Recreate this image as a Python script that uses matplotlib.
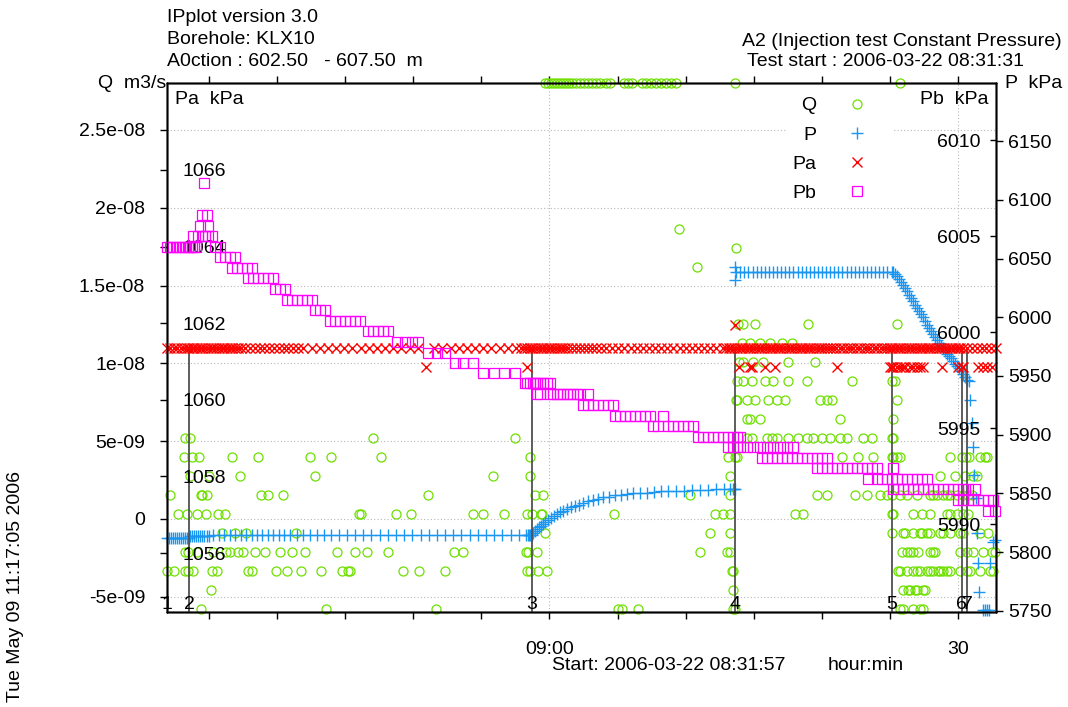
# plot.py
# IPplot-style injection test chart (KLX10, A2 constant pressure)
# ----------------------------------------

import matplotlib
matplotlib.use("Agg")
import matplotlib.pyplot as plt
import matplotlib.transforms as mtransforms
from matplotlib.lines import Line2D

plt.rcParams["font.family"] = ["Liberation Sans", "DejaVu Sans"]
plt.rcParams["font.size"] = 14

# ── Data (time = minutes after 08:31:57) ──────────────────────────────────────

# Q, flow in 1e-9 m3/s, quantised rows; first row sits on the top frame (off scale)
q_levels = [28.02, 18.62, 17.40, 16.18, 12.52, 11.30, 10.08, 8.86, 7.64, 6.42,
            5.20, 3.98, 2.76, 1.54, 0.32, -0.90, -2.12, -3.34, -4.56, -5.78]
q_times = [
    [27.73, 27.95, 28.17, 28.39, 28.61, 28.83, 29.05, 29.27, 29.49, 29.71, 30.0, 30.29,
     30.59, 30.88, 31.17, 31.47, 31.76, 32.2, 32.49, 33.52, 33.81, 34.1, 34.84, 35.13,
     35.5, 35.87, 36.23, 36.6, 36.97, 37.34, 41.66, 53.77],
    [37.56],
    [41.74],
    [38.88],
    [41.88, 42.25, 43.13, 47.02, 53.55],
    [42.18, 42.76, 43.50, 44.23, 45.11, 45.85],
    [41.96, 42.25, 42.98, 43.72, 45.55, 47.53],
    [41.81, 42.25, 42.91, 43.87, 44.45, 45.55, 46.94, 50.24, 53.18, 53.40],
    [41.74, 41.81, 42.54, 43.13, 44.08, 44.74, 45.33, 47.90, 48.41, 48.78, 53.55],
    [42.54, 42.76, 43.50, 49.36, 53.25],
    [1.32, 1.69, 15.11, 25.53, 42.54, 42.91, 44.01, 44.38, 44.74, 45.55, 46.28, 46.94,
     47.38, 48.04, 48.63, 49.36, 49.88, 51.05, 51.71, 53.18, 53.25],
    [1.25, 1.83, 2.35, 4.77, 6.67, 10.49, 12.03, 15.70, 26.63, 41.15, 41.66, 41.81,
     49.51, 50.68, 51.79, 53.18, 53.25, 53.55, 53.77, 57.43, 58.31, 58.61, 58.83, 59.64,
     60.00, 60.15],
    [1.69, 3.08, 5.35, 10.86, 23.91, 26.63, 41.30, 56.70, 57.80, 58.53, 59.12, 59.41],
    [0.22, 2.49, 2.57, 2.93, 6.89, 7.41, 8.51, 19.14, 26.99, 27.58, 38.36, 41.30, 47.68,
     48.41, 50.46, 51.35, 52.30, 52.81, 53.18, 53.77, 54.28, 55.01, 55.97, 56.18, 56.48,
     56.92, 57.21, 57.43, 57.95, 58.39, 58.75, 59.05],
    [0.81, 1.47, 2.20, 2.86, 3.74, 4.25, 14.08, 14.23, 16.80, 17.90, 22.45, 23.18, 24.72,
     26.41, 26.77, 27.43, 27.51, 32.79, 40.20, 40.78, 41.30, 46.06, 46.65, 53.18, 53.25,
     54.72, 55.38, 55.97, 57.21, 57.43, 57.95, 58.39, 58.75],
    [4.03, 4.99, 5.79, 9.46, 27.73, 39.83, 41.30, 53.18, 53.99, 54.13, 54.72, 55.23,
     55.38, 55.75, 55.97, 56.70, 56.92, 57.43, 58.17, 58.39, 59.64, 60.22],
    [1.32, 1.54, 2.20, 3.37, 4.33, 4.62, 5.21, 5.57, 6.45, 7.19, 8.29, 9.17, 10.12, 12.47,
     13.79, 14.67, 16.21, 21.05, 21.71, 26.33, 26.48, 27.14, 39.10, 41.08, 41.30, 53.91,
     54.28, 54.50, 54.72, 55.09, 55.97, 56.18, 56.33, 58.17, 58.68, 59.12, 59.86, 60.52,
     60.73],
    [0.0, 0.51, 1.32, 1.54, 1.91, 3.30, 3.67, 5.94, 6.23, 8.00, 8.80, 9.83, 11.30, 12.84,
     13.28, 13.42, 17.31, 18.48, 20.39, 26.41, 26.63, 27.21, 27.87, 41.44, 41.52, 53.62,
     53.77, 54.28, 54.72, 55.01, 55.23, 55.75, 55.97, 56.18, 56.55, 56.70, 56.92, 57.21,
     57.43, 58.17, 58.68, 58.90, 59.64, 60.37, 60.59],
    [3.23, 41.52, 53.99, 54.35, 54.50, 54.87, 55.01, 55.45, 55.60],
    [2.49, 11.66, 19.73, 33.08, 33.37, 34.55, 41.52, 41.66, 53.77, 53.99, 54.72, 55.23,
     55.45],
]

# P, test section pressure (kPa)
p_t = ([0.0, 0.15, 0.3, 0.45, 0.6, 0.75, 0.9, 1.05, 1.2, 1.35, 1.5, 1.6]
       + [1.7, 1.85, 2.0, 2.15, 2.3, 2.45, 2.6, 2.75, 2.9, 3.05]
       + [3.4, 3.8, 4.2, 4.6, 5.0, 5.4, 5.8, 6.2, 6.6, 7.0, 7.4, 7.8, 8.2, 8.6, 9.0, 9.5,
          10.0, 10.5, 11.0, 11.5, 12.0, 12.6, 13.2, 13.8, 14.4, 15.0, 15.6, 16.2, 16.8,
          17.4, 18.0, 18.6, 19.2, 19.8, 20.4, 21.0, 21.6, 22.2, 22.8, 23.4, 24.0, 24.6,
          25.2, 25.8, 26.3, 26.45, 26.55, 26.65, 26.75]
       + [26.85, 26.99, 27.14, 27.29, 27.43, 27.58, 27.73, 27.95, 28.17, 28.39, 28.61,
          28.83, 29.05, 29.34, 29.63, 29.93, 30.22, 30.51, 30.88, 31.25, 31.61, 31.98,
          32.42, 32.86, 33.30, 33.74, 34.18, 34.70, 35.21, 35.72, 36.23, 36.75, 37.34,
          37.92, 38.51, 39.10, 39.68, 40.27, 40.86, 41.30, 41.52, 41.60, 41.66]
       + [41.66, 41.66, 41.75, 42.05, 42.35, 42.65, 42.95, 43.25, 43.55, 43.85, 44.15,
          44.45, 44.75, 45.05, 45.35, 45.65, 45.95, 46.25, 46.55, 46.85, 47.15, 47.45,
          47.75, 48.05, 48.35, 48.65, 48.95, 49.25, 49.55, 49.85, 50.15, 50.45, 50.75,
          51.05, 51.35, 51.65, 51.95, 52.25, 52.55, 52.85, 53.15]
       + [53.25, 53.40, 53.55, 53.70, 53.84, 53.99, 54.13, 54.28, 54.43, 54.57, 54.72,
          54.87, 55.01, 55.16, 55.31, 55.45, 55.60, 55.75, 55.89, 56.04, 56.18, 56.33,
          56.48, 56.63, 56.77, 56.92, 57.07, 57.21, 57.36, 57.51, 57.65, 57.80, 57.95,
          58.09, 58.24, 58.39, 58.53, 58.68]
       + [58.83, 58.90, 59.05, 59.12, 59.19, 59.34, 59.41, 59.49, 59.56, 59.86, 60.00,
          60.15, 60.30, 60.37, 60.59, 60.73])
p_v = ([5812.1] * 12 + [5813.8] * 10 + [5814.7] * 49
       + [5816.4, 5818.1, 5819.8, 5821.1, 5822.3, 5823.6, 5825.7, 5827.4, 5829.1, 5830.8,
          5832.5, 5833.8, 5835.1, 5836.8, 5838.1, 5839.4, 5840.6, 5841.9, 5843.2, 5844.5,
          5845.7, 5846.6, 5847.4, 5848.3, 5848.7, 5849.6, 5850.0, 5850.4, 5850.8, 5851.3,
          5851.7, 5852.1, 5852.1, 5852.5, 5853.0, 5853.0, 5853.0, 5853.4, 5853.8, 5853.8,
          5853.8, 5853.8, 5853.8]
       + [6042.7, 6031.7] + [6038.5] * 39
       + [6038.1, 6036.8, 6035.1, 6032.6, 6030.0, 6027.4, 6024.9, 6022.3, 6019.3, 6016.4,
          6013.8, 6010.8, 6007.9, 6005.3, 6002.7, 5999.8, 5996.8, 5993.8, 5990.8, 5988.3,
          5985.7, 5983.2, 5980.6, 5978.1, 5975.5, 5973.4, 5971.3, 5969.1, 5967.0, 5964.9,
          5962.8, 5960.6, 5958.5, 5956.4, 5954.2, 5951.7, 5949.1, 5947.0]
       + [5945.7, 5929.6, 5910.0, 5889.6, 5865.7, 5846.2, 5816.4, 5790.8, 5766.2, 5750.9,
          5750.9, 5750.9, 5750.9, 5790.8, 5808.7, 5810.4])

# Pa, pressure above the section (kPa)
pa_level = 1061.36
pa_t = [0.0, 0.25, 0.5, 0.75, 1.0, 1.25, 1.5,
        1.6, 1.8, 2.0, 2.2, 2.4, 2.6, 2.8, 3.0, 3.2, 3.4, 3.6, 3.8, 4.0, 4.2, 4.4, 4.6,
        4.8, 5.0, 5.2, 5.4,
        5.75, 6.1, 6.45, 6.8, 7.15, 7.5, 7.85, 8.2, 8.55, 8.9, 9.25, 9.6,
        10.0, 10.6, 11.2, 11.8, 12.4, 13.0, 13.6, 14.2, 14.8, 15.4, 16.0, 16.6, 17.2,
        17.8, 18.4, 19.6, 20.2, 20.8, 21.4, 22.0, 22.6, 23.2, 23.8, 24.4, 25.0, 25.6,
        26.0, 26.2, 26.4, 26.6, 26.8, 27.0, 27.2, 27.4, 27.6, 27.8, 28.0, 28.2, 28.4,
        28.6, 28.8, 29.0, 29.2, 29.4,
        29.7, 30.0, 30.3, 30.6, 30.9, 31.2, 31.5, 31.8,
        32.2, 32.65, 33.1, 33.55, 34.0, 34.45, 34.9, 35.35, 35.8, 36.25, 36.7, 37.15,
        37.6, 38.05, 38.5, 38.95, 39.4, 39.85, 40.3, 40.75,
        41.0, 41.2, 41.4, 41.6, 41.8, 42.0, 42.2, 42.4, 42.6, 42.8, 43.0, 43.2, 43.4,
        43.6, 43.8, 44.0, 44.2, 44.4, 44.6, 44.8, 45.0, 45.2, 45.4, 45.6, 45.8, 46.0,
        46.2, 46.4, 46.6, 46.8, 47.0, 47.2, 47.4, 47.6, 47.8, 48.0, 48.2, 48.4, 48.6,
        48.85, 49.1, 49.35, 49.6, 49.85, 50.1, 50.35, 50.6, 50.85, 51.1, 51.35, 51.6,
        51.85, 52.1, 52.35, 52.6, 52.85,
        53.0, 53.2, 53.4, 53.6, 53.8, 54.0, 54.2, 54.4, 54.6, 54.8, 55.0, 55.2, 55.4,
        55.6, 55.8, 56.0, 56.2, 56.4, 56.6, 56.8, 57.0, 57.2, 57.4, 57.6, 57.8, 58.0,
        58.2, 58.4,
        58.7, 59.05, 59.4, 59.75, 60.1, 60.45, 60.8]
pa_low = 1060.85
pa_low_t = [18.99, 26.41, 41.96, 42.76, 42.91, 43.87, 44.60, 49.14, 53.03, 53.18, 53.25,
            53.55, 53.77, 53.99, 54.13, 54.50, 54.72, 55.01, 55.23, 55.45, 56.85, 58.02,
            58.31, 58.39, 59.49, 59.86, 60.15, 60.52]
pa_high = 1061.96
pa_high_t = [41.66]

# Pb, pressure below the section (kPa), quantised steps
pb_levels = [6007.76, 6006.09, 6005.52, 6005.00, 6004.43, 6003.91, 6003.33, 6002.81,
             6002.24, 6001.67, 6001.15, 6000.57, 6000.05, 5999.48, 5998.91, 5998.39,
             5997.86, 5997.34, 5996.77, 5996.20, 5995.63, 5995.10, 5994.53, 5994.01,
             5993.44, 5992.92, 5992.34, 5991.82, 5991.25, 5990.68]
pb_times = [
    [2.71],
    [2.57, 2.93],
    [2.42, 3.01],
    [1.91, 2.27, 2.57, 2.79, 3.01, 3.30],
    [0.0, 0.22, 0.44, 0.66, 0.88, 1.10, 1.32, 1.54, 1.69, 1.83, 1.98, 2.13, 3.52, 3.89],
    [3.89, 4.25, 4.62, 4.99],
    [4.77, 5.13, 5.50, 5.87, 6.23],
    [5.94, 6.31, 6.67, 7.04, 7.41, 7.77],
    [7.92, 8.29, 8.65],
    [8.80, 9.17, 9.54, 9.90, 10.27, 10.64],
    [10.86, 11.22, 11.59],
    [11.96, 12.32, 12.69, 13.06, 13.42, 13.79, 14.16],
    [14.74, 15.11, 15.48, 15.84, 16.21],
    [16.87, 17.46, 17.97, 18.41],
    [19.14, 19.80, 20.39],
    [21.12, 21.71, 22.45],
    [23.18, 23.99, 24.72, 25.53],
    [26.26, 26.41, 26.63, 26.85, 26.99, 27.14, 27.36, 27.58, 27.87, 28.09],
    [27.14, 27.36, 28.09, 28.31, 28.61, 28.83, 29.05, 29.34, 29.56, 29.78, 30.07, 30.29,
     30.88],
    [30.51, 30.88, 31.25, 31.61, 31.98, 32.35, 32.71],
    [32.86, 33.23, 33.60, 33.96, 34.33, 34.70, 35.06, 35.43, 36.38],
    [35.65, 36.01, 36.75, 37.12, 37.48, 37.85, 38.22, 38.58],
    [38.95, 39.32, 39.68, 40.05, 40.42, 40.78, 41.15, 41.52, 41.81, 42.03],
    [41.15, 41.52, 41.81, 42.03, 42.54, 42.98, 43.50, 44.01, 44.45, 44.96, 45.48, 45.92],
    [43.65, 44.01, 44.38, 44.74, 45.11, 45.48, 45.85, 46.21, 46.58, 46.94, 47.31, 47.68,
     48.04, 48.41],
    [47.68, 48.04, 48.41, 48.78, 49.14, 49.51, 49.88, 50.24, 50.61, 50.98, 51.35, 51.71,
     52.08, 53.25],
    [51.42, 52.08, 52.45, 52.81, 53.18, 53.55, 53.91, 54.28, 54.65, 55.01, 55.38, 55.75],
    [53.25, 53.62, 53.99, 54.35, 54.72, 55.09, 55.45, 55.82, 56.18, 56.55, 56.92, 57.29,
     57.65, 58.02, 58.39, 58.75, 59.27],
    [58.02, 58.39, 58.75, 59.12, 59.49, 59.86, 60.22, 60.59],
    [60.22, 60.73],
]

# test events (sequence markers 1..7)
event_t = [0.0, 1.61, 26.77, 41.66, 53.18, 58.31, 58.68]
event_labels = ["1", "2", "3", "4", "5", "6", "7"]

# axes scales
t_lim = (0.0, 60.81)
q_lim = (-5.98, 28.02)          # 1e-9 m3/s
p_lim = (5749.1, 6199.4)
pa_lim = (1054.46, 1068.27)
pb_lim = (5985.42, 6012.97)

q_ticks = [-5, 0, 5, 10, 15, 20, 25]
q_tick_labels = ["-5e-09", "0", "5e-09", "1e-08", "1.5e-08", "2e-08", "2.5e-08"]
p_ticks = [5750, 5800, 5850, 5900, 5950, 6000, 6050, 6100, 6150]
pa_ticks = [1056, 1058, 1060, 1062, 1064, 1066]
pb_ticks = [5990, 5995, 6000, 6005, 6010]
t_major = [28.05, 58.05]
t_major_labels = ["09:00", "30"]
t_minor = [3.05, 8.05, 13.05, 18.05, 23.05, 33.05, 38.05, 43.05, 48.05, 53.05]

# ── Styles ─────────────────────────────────────────────────────────────────────
C_Q = "#6ee000"
C_P = "#1a96f0"
C_PA = "#ff0000"
C_PB = "#ff00ff"

W, H = 1068, 707


def fx(x):
    return x / W


def fy(y):
    return 1 - y / H


fig = plt.figure(figsize=(W / 100, H / 100), dpi=100)
fig.patch.set_facecolor("white")

ax_q = fig.add_axes([fx(167), fy(612), fx(996) - fx(167), fy(83) - fy(612)])
ax_p = ax_q.twinx()
ax_pa = ax_q.twinx()
ax_pb = ax_q.twinx()

for ax in (ax_q, ax_p, ax_pa, ax_pb):
    ax.set_xlim(*t_lim)
    for spine in ax.spines.values():
        spine.set_linewidth(1.0)
        spine.set_color("black")

# Q (left axis, outer labels)
ax_q.set_ylim(*q_lim)
ax_q.set_yticks(q_ticks, q_tick_labels)
ax_q.set_xticks(t_major, t_major_labels)
ax_q.set_xticks(t_minor, minor=True)
ax_q.tick_params(axis="y", direction="out", length=5, width=1, pad=10.8)
ax_q.tick_params(axis="x", which="both", direction="out", length=5, width=1,
                 top=True, pad=16)
ax_q.grid(True, which="major", color="#b8b8b8", linewidth=0.8, linestyle=(0, (1, 2)))
ax_q.set_axisbelow(True)

for lvl, times in zip(q_levels, q_times):
    ax_q.plot(times, [lvl] * len(times), linestyle="none", marker="o", markersize=6.5,
              markerfacecolor="none", markeredgecolor=C_Q, markeredgewidth=0.9,
              clip_on=False)

# P (right axis, outer labels)
ax_p.set_ylim(*p_lim)
ax_p.set_yticks(p_ticks, [str(v) for v in p_ticks])
ax_p.tick_params(axis="y", direction="out", length=5, width=1, pad=3.6)
ax_p.plot(p_t, p_v, linestyle="none", marker="+", markersize=8, markeredgewidth=1.0,
          color=C_P, clip_on=False)

# Pa (left axis, labels inside the frame)
ax_pa.yaxis.tick_left()
ax_pa.yaxis.set_label_position("left")
ax_pa.set_ylim(*pa_lim)
ax_pa.set_yticks(pa_ticks, [str(v) for v in pa_ticks], ha="left")
ax_pa.tick_params(axis="y", direction="out", length=5, width=1, pad=-15.8)
ax_pa.vlines(event_t, pa_lim[0], pa_level, colors="#505050", linewidth=1.3, zorder=1)
ax_pa.plot(pa_t, [pa_level] * len(pa_t), linestyle="none", marker="x", markersize=6.5,
           markeredgewidth=1.0, color=C_PA, clip_on=False)
ax_pa.plot(pa_low_t, [pa_low] * len(pa_low_t), linestyle="none", marker="x",
           markersize=6.5, markeredgewidth=1.0, color=C_PA, clip_on=False)
ax_pa.plot(pa_high_t, [pa_high] * len(pa_high_t), linestyle="none", marker="x",
           markersize=6.5, markeredgewidth=1.0, color=C_PA, clip_on=False)

ev_trans = mtransforms.blended_transform_factory(ax_pa.transData, ax_pa.transAxes)
for t, lab in zip(event_t, event_labels):
    ax_pa.text(t, 0.014, lab, transform=ev_trans, ha="center", va="center", fontsize=14)

# Pb (right axis, labels inside the frame)
ax_pb.set_ylim(*pb_lim)
ax_pb.set_yticks(pb_ticks, [str(v) for v in pb_ticks], ha="right")
ax_pb.tick_params(axis="y", direction="in", length=4.5, width=1, pad=-11.5)
for lvl, times in zip(pb_levels, pb_times):
    ax_pb.plot(times, [lvl] * len(times), linestyle="none", marker="s", markersize=7,
               markerfacecolor="none", markeredgecolor=C_PB, markeredgewidth=0.9,
               clip_on=False)

# key
handles = [
    Line2D([], [], linestyle="none", marker="o", markersize=6.5, markerfacecolor="none",
           markeredgecolor=C_Q, markeredgewidth=0.9),
    Line2D([], [], linestyle="none", marker="+", markersize=8, markeredgewidth=1.0,
           color=C_P),
    Line2D([], [], linestyle="none", marker="x", markersize=6.5, markeredgewidth=1.0,
           color=C_PA),
    Line2D([], [], linestyle="none", marker="s", markersize=7, markerfacecolor="none",
           markeredgecolor=C_PB, markeredgewidth=0.9),
]
leg = ax_pb.legend(handles, ["Q", "P", "Pa", "Pb"], loc="upper right",
                   bbox_to_anchor=(fx(894), fy(91)), bbox_transform=fig.transFigure,
                   borderaxespad=0, markerfirst=False, numpoints=1, handlelength=3.2,
                   handletextpad=0.5, labelspacing=0.6, borderpad=0.3, fancybox=False,
                   frameon=True, facecolor="white", edgecolor="none", framealpha=1,
                   fontsize=14)

# ── Header / annotations ──────────────────────────────────────────────────────
fig.text(fx(167), fy(18), "IPplot version 3.0", va="center", ha="left")
fig.text(fx(167), fy(40), "Borehole: KLX10", va="center", ha="left")
fig.text(fx(167), fy(62), "A0ction : 602.50   - 607.50  m", va="center", ha="left")
fig.text(fx(1062), fy(41), "A2 (Injection test Constant Pressure)", va="center", ha="right")
fig.text(fx(747), fy(62), "Test start : 2006-03-22 08:31:31", va="center", ha="left")
fig.text(fx(98), fy(83), "Q  m3/s", va="center", ha="left")
fig.text(fx(1005), fy(83), "P  kPa", va="center", ha="left")
fig.text(fx(175), fy(99), "Pa  kPa", va="center", ha="left")
fig.text(fx(988), fy(99), "Pb  kPa", va="center", ha="right")
fig.text(fx(552), fy(665), "Start: 2006-03-22 08:31:57", va="center", ha="left")
fig.text(fx(828), fy(665), "hour:min", va="center", ha="left")
fig.text(fx(16), fy(587), "Tue May 09 11:17:05 2006", va="center", ha="center",
         rotation=90)

fig.savefig("out.png", dpi=100, facecolor="white")
